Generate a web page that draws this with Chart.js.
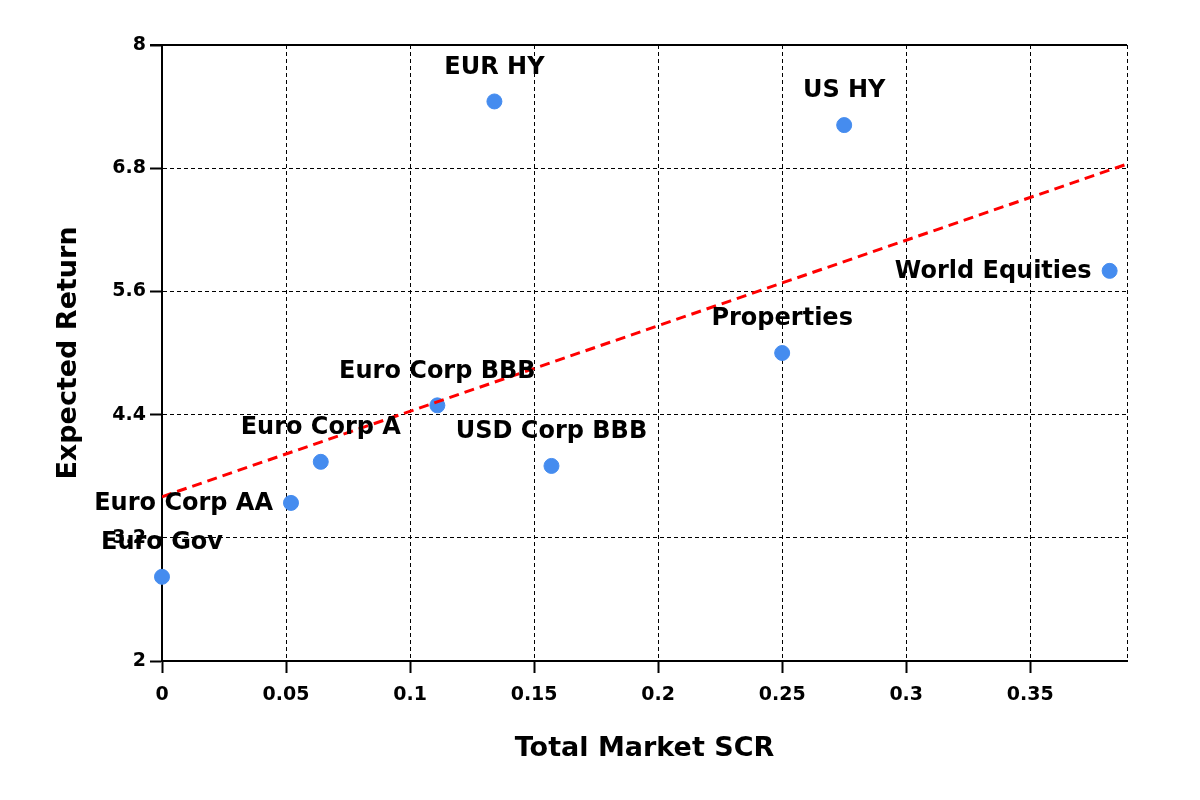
<!DOCTYPE html>
<html>
<head>
<meta charset="utf-8">
<script src="https://cdn.jsdelivr.net/npm/chart.js@4"></script>
<style>
  html, body { margin: 0; padding: 0; background: #fff; }
  #wrap { width: 1200px; height: 800px; }
</style>
</head>
<body>
<div id="wrap"><canvas id="chart" width="1200" height="800"></canvas></div>
<script>
const assetNames = ['Euro Gov', 'Euro Corp AA', 'Euro Corp A', 'Euro Corp BBB', 'EUR HY',
    'USD Corp BBB', 'Properties', 'US HY', 'World Equities'];
const scrValues = [0, 0.052, 0.064, 0.111, 0.134, 0.157, 0.250, 0.275, 0.382];
const returnValues = [2.82, 3.54, 3.94, 4.49, 7.45, 3.90, 5.00, 7.22, 5.80];
const trendX = [0, 0.389];
const trendY = [3.60, 6.84];
const xTicks = [0, 0.05, 0.1, 0.15, 0.2, 0.25, 0.3, 0.35];
const yTicks = [2, 3.2, 4.4, 5.6, 6.8, 8];

const X_MAX = 0.389;
const FONT = '"DejaVu Sans", Verdana, sans-serif';
const leftLabels = ['Euro Corp AA', 'World Equities'];

// names next to each point
const pointLabels = {
    id: 'pointLabels',
    afterDatasetsDraw(chart) {
        const ctx = chart.ctx;
        const meta = chart.getDatasetMeta(1);
        ctx.save();
        ctx.font = 'bold 24px ' + FONT;
        ctx.fillStyle = '#000';
        ctx.textBaseline = 'middle';
        meta.data.forEach((pt, i) => {
            const name = assetNames[i];
            if (leftLabels.includes(name)) {
                ctx.textAlign = 'right';
                ctx.fillText(name, pt.x - 18, pt.y + 1);
            } else {
                ctx.textAlign = 'center';
                ctx.fillText(name, pt.x, pt.y - 34);
            }
        });
        ctx.restore();
    }
};

// solid frame line along the top of the plot
const topBorder = {
    id: 'topBorder',
    beforeDatasetsDraw(chart) {
        const {ctx, chartArea} = chart;
        ctx.save();
        ctx.strokeStyle = '#000';
        ctx.lineWidth = 2;
        ctx.beginPath();
        ctx.moveTo(chartArea.left - 12, chartArea.top);
        ctx.lineTo(chartArea.right, chartArea.top);
        ctx.stroke();
        ctx.restore();
    }
};

const ctx = document.getElementById('chart').getContext('2d');
new Chart(ctx, {
    type: 'scatter',
    data: {
        datasets: [{
            type: 'line',
            label: 'Trend',
            data: trendX.map((x, i) => ({ x: x, y: trendY[i] })),
            borderColor: '#ff0000',
            borderWidth: 3,
            borderDash: [10, 6],
            pointRadius: 0,
            fill: false
        }, {
            label: 'Assets',
            data: scrValues.map((x, i) => ({ x: x, y: returnValues[i] })),
            backgroundColor: '#458cef',
            borderColor: '#458cef',
            pointRadius: 7.5,
            pointHoverRadius: 7.5,
            clip: false
        }]
    },
    options: {
        responsive: false,
        animation: false,
        layout: { padding: { left: 0, top: 45, right: 73, bottom: 0 } },
        plugins: {
            legend: { display: false },
            tooltip: { enabled: false }
        },
        scales: {
            x: {
                type: 'linear',
                min: 0,
                max: X_MAX,
                afterBuildTicks: scale => {
                    scale.ticks = xTicks.concat([X_MAX]).map(v => ({ value: v }));
                },
                afterFit: scale => { scale.height = 139; },
                ticks: {
                    padding: 11,
                    color: '#000',
                    font: { family: FONT, size: 19, weight: 'bold' },
                    maxRotation: 0,
                    callback: v => xTicks.includes(v) ? String(v) : ''
                },
                grid: {
                    color: '#000',
                    lineWidth: 1,
                    tickLength: 12,
                    tickColor: ctx => ctx.tick && ctx.tick.value === X_MAX ? 'rgba(0,0,0,0)' : '#000',
                    tickWidth: 2
                },
                border: { display: true, color: '#000', width: 2, dash: [4, 3] },
                title: {
                    display: true,
                    text: 'Total Market SCR',
                    color: '#000',
                    font: { family: FONT, size: 27, weight: 'bold' },
                    padding: { top: 35, bottom: 35 }
                }
            },
            y: {
                min: 2,
                max: 8,
                afterBuildTicks: scale => {
                    scale.ticks = yTicks.map(v => ({ value: v }));
                },
                afterFit: scale => { scale.width = 162; },
                ticks: {
                    padding: 4,
                    color: '#000',
                    font: { family: FONT, size: 19, weight: 'bold' },
                    callback: v => String(v)
                },
                grid: {
                    color: '#000',
                    lineWidth: 1,
                    tickLength: 12,
                    tickColor: '#000',
                    tickWidth: 2
                },
                border: { display: true, color: '#000', width: 2, dash: [4, 3] },
                title: {
                    display: true,
                    text: 'Expected Return',
                    color: '#000',
                    font: { family: FONT, size: 27, weight: 'bold' },
                    padding: { top: 53, bottom: 53 }
                }
            }
        }
    },
    plugins: [pointLabels, topBorder]
});
</script>
</body>
</html>
